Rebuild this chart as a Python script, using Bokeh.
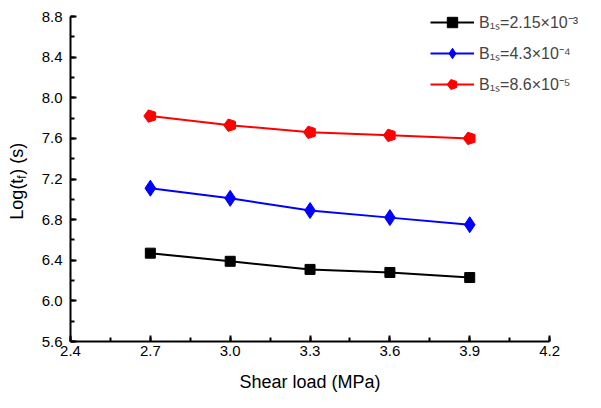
import numpy as np
from bokeh.plotting import figure
from bokeh.models import Range1d, SingleIntervalTicker, PrintfTickFormatter, Legend, LegendItem, Label
from bokeh.embed import file_html
from bokeh.resources import INLINE

# ---- data ----
shear_load = [2.7, 3.0, 3.3, 3.6, 3.9]
log_tf_215e3 = [6.47, 6.39, 6.31, 6.28, 6.23]
log_tf_43e4 = [7.11, 7.01, 6.89, 6.82, 6.75]
log_tf_86e5 = [7.82, 7.73, 7.66, 7.63, 7.60]
series_labels = ["B₁ₛ=2.15×10⁻³", "B₁ₛ=4.3×10⁻⁴", "B₁ₛ=8.6×10⁻⁵"]
x_label = "Shear load (MPa)"
y_label_parts = ["Log(t", "f", ") (s)"]
x_bounds = (2.4, 4.2)
y_bounds = (5.6, 8.8)

FONT = "Liberation Sans"

# frame spans the whole canvas so texts outside the axes are not clipped;
# both axes are pinned at the data origin and bounded to the data extents
p = figure(width=585, height=392, output_backend="svg", toolbar_location=None,
           x_range=Range1d(2.137, 4.335), y_range=Range1d(5.098, 8.958),
           min_border_left=0, min_border_right=0, min_border_top=0, min_border_bottom=0)
p.outline_line_color = None
p.xgrid.visible = False
p.ygrid.visible = False

for ax, interval, b in ((p.xaxis[0], 0.3, x_bounds), (p.yaxis[0], 0.4, y_bounds)):
    ax.bounds = b
    ax.ticker = SingleIntervalTicker(interval=interval, num_minor_ticks=2)
    ax.formatter = PrintfTickFormatter(format="%.1f")
    ax.axis_line_width = 2
    ax.major_tick_line_width = 2
    ax.minor_tick_line_width = 2
    ax.major_tick_in = 6
    ax.major_tick_out = 0
    ax.minor_tick_in = 4
    ax.minor_tick_out = 0
    ax.major_label_text_font = FONT
    ax.major_label_text_font_size = "15px"
    ax.major_label_text_color = "black"
    ax.axis_line_color = "black"
    ax.major_tick_line_color = "black"
    ax.minor_tick_line_color = "black"

p.yaxis[0].fixed_location = x_bounds[0]
p.xaxis[0].fixed_location = y_bounds[0]
p.xaxis.major_label_standoff = 4
p.yaxis.major_label_standoff = 8

# series
l1 = p.line(shear_load, log_tf_215e3, line_color="black", line_width=2)
m1 = p.scatter(shear_load, log_tf_215e3, marker="square", size=10, color="black")
l2 = p.line(shear_load, log_tf_43e4, line_color="blue", line_width=2)
m2 = p.scatter(shear_load, log_tf_43e4, marker="diamond", size=16, color="blue")
l3 = p.line(shear_load, log_tf_86e5, line_color="red", line_width=2)
m3 = p.ngon(shear_load, log_tf_86e5, radius=6.5, radius_units="screen", n=5,
            angle=np.pi / 2, fill_color="red", line_color="red")

legend = Legend(items=[LegendItem(label=series_labels[0], renderers=[l1, m1]),
                       LegendItem(label=series_labels[1], renderers=[l2, m2]),
                       LegendItem(label=series_labels[2], renderers=[l3, m3])],
                location=(420, 285), border_line_alpha=0, background_fill_alpha=0,
                label_text_font=FONT, label_text_font_size="16px",
                glyph_width=44, glyph_height=26, spacing=5, padding=10, margin=0,
                label_standoff=5)
p.add_layout(legend)

# x label, centred under the bounded x axis
p.add_layout(Label(x=(x_bounds[0] + x_bounds[1]) / 2, y=y_bounds[0], y_offset=-40, text=x_label,
                   text_align="center", text_baseline="middle", text_font=FONT,
                   text_font_size="18px", text_color="black"))

# y label with subscript
fs_main, fs_sub = 18, 12
w1 = 2.279 * fs_main
w2 = 0.278 * fs_sub
y0 = 6.8
p.add_layout(Label(x=x_bounds[0], y=y0, x_offset=-53, y_offset=0, text=y_label_parts[0], angle=np.pi / 2,
                   text_align="left", text_baseline="middle", text_font=FONT,
                   text_font_size=f"{fs_main}px", text_color="black"))
p.add_layout(Label(x=x_bounds[0], y=y0, x_offset=-48, y_offset=w1, text=y_label_parts[1], angle=np.pi / 2,
                   text_align="left", text_baseline="middle", text_font=FONT,
                   text_font_size=f"{fs_sub}px", text_color="black"))
p.add_layout(Label(x=x_bounds[0], y=y0, x_offset=-53, y_offset=w1 + w2 + 0.5, text=y_label_parts[2],
                   angle=np.pi / 2, text_align="left", text_baseline="middle", text_font=FONT,
                   text_font_size=f"{fs_main}px", text_color="black"))

open("out.html", "w").write(file_html(p, INLINE))
